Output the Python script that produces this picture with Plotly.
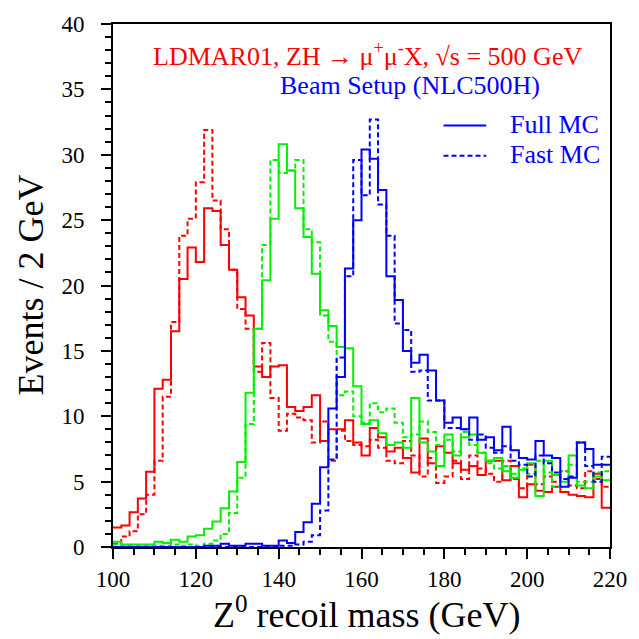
import numpy as np
import plotly.graph_objects as go

# 2 GeV bins from 100 to 220 GeV
bin_edges = np.arange(100, 222, 2)

# Events per bin, Z -> mu mu recoil mass, for three Higgs masses
red_full = [1.5, 1.65, 2.66, 3.7, 5.75, 12.1, 12.8, 16.5, 20.5, 22.9,
            21.8, 25.9, 25.7, 23.1, 21.2, 19.1, 17.7, 13.8, 13.0, 13.8,
            13.9, 10.7, 10.4, 10.7, 11.6, 8.1, 9.0, 9.0, 9.7, 8.0,
            7.0, 9.1, 8.4, 7.3, 7.6, 6.8, 5.7, 8.3, 6.4, 7.7,
            7.2, 6.4, 5.9, 6.2, 5.5, 6.6, 6.6, 5.1, 6.2, 3.8,
            4.8, 4.3, 4.2, 4.6, 4.2, 4.0, 3.9, 3.8, 5.6, 3.0]
red_fast = [0.25, 0.8, 1.2, 2.5, 4.0, 6.6, 11.5, 17.2, 23.8, 25.1,
            27.9, 31.9, 26.5, 24.3, 21.2, 18.2, 16.7, 13.4, 15.6, 11.4,
            8.9, 10.2, 9.9, 9.7, 8.0, 9.6, 6.6, 8.9, 8.1, 7.8,
            7.7, 8.2, 7.6, 6.6, 6.4, 8.1, 7.0, 5.4, 6.8, 4.9,
            5.4, 6.6, 5.2, 7.0, 6.0, 5.6, 5.0, 6.6, 5.2, 4.5,
            6.3, 4.8, 5.4, 5.0, 5.8, 4.7, 4.5, 5.8, 5.2, 4.6]
green_full = [0.4, 0.2, 0.2, 0.2, 0.2, 0.4, 0.3, 0.55, 0.4, 0.8,
              0.9, 1.4, 1.95, 2.96, 4.25, 6.5, 11.8, 16.7, 20.4, 25.1,
              30.8, 28.8, 25.9, 23.7, 20.9, 18.1, 16.9, 15.3, 15.2, 12.3,
              9.4, 9.7, 8.7, 7.8, 8.0, 7.6, 11.4, 8.0, 7.3, 6.2,
              8.6, 7.0, 8.4, 8.6, 7.2, 6.6, 6.8, 5.8, 5.3, 5.9,
              6.4, 3.9, 6.6, 5.5, 5.0, 7.0, 4.7, 4.5, 5.4, 5.1]
green_fast = [0.2, 0.1, 0.1, 0.1, 0.1, 0.1, 0.1, 0.2, 0.1, 0.2,
              0.1, 0.25, 0.5, 1.0, 2.6, 5.3, 9.4, 16.7, 23.1, 29.6,
              28.6, 28.8, 29.6, 24.3, 23.3, 17.7, 15.7, 11.6, 11.9, 10.0,
              9.5, 11.0, 10.3, 10.6, 9.5, 8.4, 8.6, 9.6, 8.8, 7.8,
              8.2, 7.3, 8.8, 7.8, 7.2, 6.4, 6.0, 6.2, 5.6, 6.0,
              5.6, 6.6, 5.7, 4.6, 5.8, 6.3, 5.0, 5.0, 5.7, 5.8]
blue_full = [0.0, 0.0, 0.0, 0.0, 0.0, 0.0, 0.0, 0.0, 0.0, 0.0,
             0.0, 0.1, 0.1, 0.25, 0.1, 0.1, 0.25, 0.25, 0.1, 0.1,
             0.5, 0.3, 1.14, 1.9, 3.3, 6.1, 10.6, 13.0, 21.3, 25.0,
             30.4, 29.7, 27.3, 20.7, 18.9, 15.0, 14.1, 14.7, 13.5, 11.2,
             9.5, 9.9, 9.0, 9.9, 8.2, 8.4, 7.4, 9.2, 7.4, 6.8,
             6.7, 8.1, 7.0, 6.8, 4.6, 5.3, 8.0, 7.5, 6.3, 6.3]
blue_fast = [0.0, 0.0, 0.0, 0.0, 0.0, 0.0, 0.0, 0.0, 0.0, 0.0,
             0.0, 0.0, 0.0, 0.0, 0.0, 0.0, 0.0, 0.0, 0.0, 0.0,
             0.1, 0.1, 0.2, 0.4, 0.9, 2.8, 6.7, 14.5, 20.7, 29.6,
             26.9, 32.7, 26.2, 23.8, 17.1, 16.6, 13.4, 13.5, 11.2, 11.2,
             9.1, 9.1, 9.0, 8.2, 8.6, 7.6, 7.2, 7.7, 6.6, 6.3,
             5.4, 7.0, 6.4, 5.7, 5.2, 5.4, 8.0, 6.2, 5.0, 6.9]

RED, GREEN, BLUE = "#ff0000", "#00f000", "#0000ff"
DASH = "5px,3px"
SERIF = "Liberation Serif, Times New Roman, serif"


def step_trace(values, color, dashed):
    # step outline: one point per left edge, closed at the last right edge
    x = list(bin_edges)
    y = list(values) + [values[-1]]
    return go.Scatter(
        x=x, y=y, mode="lines", line_shape="hv", showlegend=False,
        line=dict(color=color, width=2, dash=DASH if dashed else "solid"),
        hoverinfo="skip",
    )


fig = go.Figure()
for vals, col, dashed in [
    (red_fast, RED, True), (red_full, RED, False),
    (green_fast, GREEN, True), (green_full, GREEN, False),
    (blue_fast, BLUE, True), (blue_full, BLUE, False),
]:
    fig.add_trace(step_trace(vals, col, dashed))

axis_common = dict(
    showline=True, linecolor="black", linewidth=2, mirror=True,
    showgrid=False, zeroline=False, ticks="outside", tickcolor="black",
    tickwidth=1.5, ticklen=10,
    tickfont=dict(family=SERIF, size=23, color="black"),
)
fig.update_xaxes(range=[100, 220], tickvals=list(range(100, 221, 20)),
                 minor=dict(dtick=5, ticks="outside", ticklen=6,
                            tickcolor="black", tickwidth=1.5),
                 **axis_common)
fig.update_yaxes(range=[0, 40], tickvals=list(range(0, 41, 5)),
                 ticklabelstandoff=12,
                 minor=dict(dtick=1, ticks="outside", ticklen=6,
                            tickcolor="black", tickwidth=1.5),
                 **axis_common)

annotations = [
    dict(text="Z<sup>0</sup> recoil mass (GeV)", x=0.512, y=-0.125,
         font=dict(size=36, color="black")),
    dict(text="Events / 2 GeV", x=-0.165, y=0.502, textangle=-90,
         font=dict(size=36, color="black")),
    dict(text="LDMAR01, ZH \u2192 \u03bc<sup>+</sup>\u03bc<sup>-</sup>X, \u221as = 500 GeV",
         x=0.512, y=0.942, font=dict(size=26, color=RED)),
    dict(text="Beam Setup (NLC500H)", x=0.598, y=0.883,
         font=dict(size=26, color=BLUE)),
    dict(text="Full MC", x=0.795, y=0.808, xanchor="left",
         font=dict(size=26, color=BLUE)),
    dict(text="Fast MC", x=0.795, y=0.750, xanchor="left",
         font=dict(size=26, color=BLUE)),
]
for a in annotations:
    a.setdefault("xanchor", "center")
    a.update(xref="paper", yref="paper", yanchor="middle", showarrow=False)
    a["font"]["family"] = SERIF
fig.update_layout(annotations=annotations)

# legend line samples
fig.add_shape(type="line", xref="paper", yref="paper", x0=0.665, x1=0.751,
              y0=0.806, y1=0.806, line=dict(color=BLUE, width=2))
fig.add_shape(type="line", xref="paper", yref="paper", x0=0.665, x1=0.751,
              y0=0.748, y1=0.748, line=dict(color=BLUE, width=2, dash=DASH))

fig.update_layout(
    width=639, height=639,
    margin=dict(l=113, r=22, t=19, b=92),
    paper_bgcolor="white", plot_bgcolor="white",
    font=dict(family=SERIF, color="black"),
)

fig.write_html("out.html")
